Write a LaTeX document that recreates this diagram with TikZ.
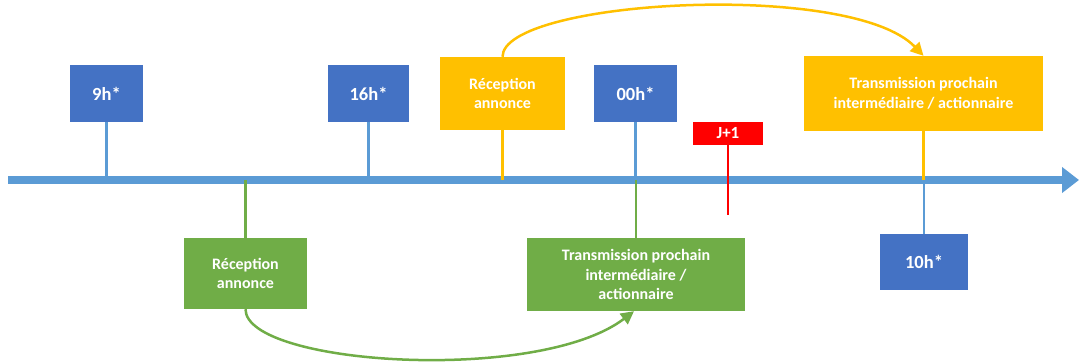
\documentclass[tikz,border=0pt]{standalone}
\usepackage{fontspec}
\setmainfont{Carlito}
\usetikzlibrary{arrows.meta}
\definecolor{tblue}{HTML}{4472C4}
\definecolor{lblue}{HTML}{5B9BD5}
\definecolor{tyellow}{HTML}{FFC000}
\definecolor{tgreen}{HTML}{70AD47}
\definecolor{tred}{HTML}{FF0000}
\begin{document}
\begin{tikzpicture}[x=1pt,y=-1pt,
  box/.style={rectangle, inner sep=0pt, text=white, align=center,
    font=\bfseries\fontsize{16}{19.5}\selectfont},
  timebox/.style={box, fill=tblue, minimum height=57pt,
    font=\bfseries\fontsize{18.5}{21}\selectfont},
  ybox/.style={box, fill=tyellow},
  gbox/.style={box, fill=tgreen},
  stem/.style={line width=2.5pt},
  flow/.style={line width=2.5pt, -{Triangle[length=13pt,width=13pt]}},
]
\useasboundingbox (0,0) rectangle (1079,363);

% time axis
\coordinate (axstart) at (8,180);
\coordinate (axend) at (1079,180);
\draw[lblue, line width=8pt, -{Triangle[length=17pt,width=25pt]}] (axstart) -- (axend);

% hour markers
\node[timebox, minimum width=73pt] (h9) at (106.5,93.5) {9h*};
\node[timebox, minimum width=81pt] (h16) at (368.5,93.5) {16h*};
\node[timebox, minimum width=83pt] (h0) at (635.5,93.5) {00h*};
\node[timebox, minimum width=88pt, minimum height=56pt] (h10) at (924,262) {10h*};
\node[box, fill=tred, minimum width=70pt, minimum height=23pt,
  font=\bfseries\fontsize{17}{18}\selectfont] (j1) at (728,133.5) {J+1};

% first announcement (green, below the axis)
\node[gbox, minimum width=123pt, minimum height=71pt] (gr) at (245.5,273.5) {Réception\\annonce};
\node[gbox, minimum width=218pt, minimum height=73pt] (gt) at (636,274.5)
  {Transmission prochain\\intermédiaire /\\actionnaire};

% second announcement (yellow, above the axis)
\node[ybox, minimum width=125pt, minimum height=73pt] (yr) at (502.5,93.5) {Réception\\annonce};
\node[ybox, minimum width=239pt, minimum height=75pt] (yt) at (923.5,93.5)
  {Transmission prochain\\intermédiaire / actionnaire};

% stems to the axis
\draw[lblue, stem] (h9.south) -- (h9.south |- axstart);
\draw[lblue, stem] (h16.south) -- (h16.south |- axstart);
\draw[lblue, stem] (h0.south) -- (h0.south |- axstart);
\draw[lblue, stem] (h10.north) -- (h10.north |- axstart);
\draw[tyellow, stem] (yr.south) -- (yr.south |- axstart);
\draw[tyellow, stem] (yt.south) -- (yt.south |- axstart);
\draw[tgreen, stem] (gr.north) -- (gr.north |- axstart);
\draw[tgreen, stem] (gt.north) -- (gt.north |- axstart);
\coordinate (jend) at (728,215);
\draw[tred, line width=2pt] (j1.south) -- (jend);

% transmission arrows
\draw[tgreen, flow] (gr.south) .. controls +(0,56) and +(-96,73) .. ([xshift=-2pt]gt.south);
\draw[tyellow, flow] (yr.north) .. controls +(0,-57) and +(-73,-76) .. (yt.north);
\end{tikzpicture}
\end{document}
